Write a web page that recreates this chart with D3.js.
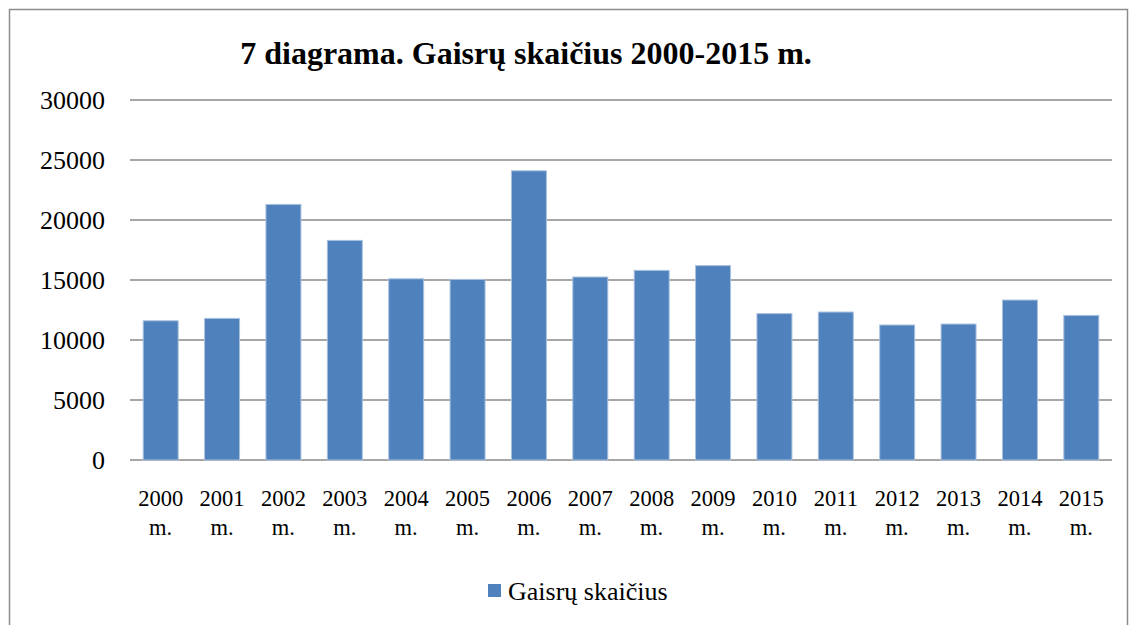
<!DOCTYPE html>
<html>
<head>
<meta charset="utf-8">
<script src="https://cdn.jsdelivr.net/npm/d3@7"></script>
<style>
  body { margin: 0; background: #fff; }
  svg text { font-family: "Liberation Serif", "Times New Roman", Times, serif; fill: #000; }
</style>
</head>
<body>
<div id="chart"></div>
<script>
const years = ['2000', '2001', '2002', '2003', '2004', '2005', '2006', '2007',
  '2008', '2009', '2010', '2011', '2012', '2013', '2014', '2015'];
const fires = [11600, 11800, 21300, 18300, 15100, 15050, 24100, 15250,
  15800, 16200, 12200, 12330, 11250, 11330, 13330, 12050];
const yTicks = [0, 5000, 10000, 15000, 20000, 25000, 30000];
const seriesName = 'Gaisrų skaičius';
const title = '7 diagrama. Gaisrų skaičius 2000-2015 m.';

const width = 1137, height = 625;
const margin = {top: 100, right: 25, bottom: 165, left: 130};
const cw = width - margin.left - margin.right;
const ch = height - margin.top - margin.bottom;
const barColor = '#4f81bd';

const svg = d3.select('#chart').append('svg').attr('width', width).attr('height', height);

// outer frame
svg.append('rect')
  .attr('x', 9.5).attr('y', 9.5)
  .attr('width', 1118).attr('height', 630)
  .attr('fill', 'none').attr('stroke', '#8c8c8c').attr('stroke-width', 1.5);

svg.append('text')
  .attr('x', 526).attr('y', 64)
  .attr('text-anchor', 'middle')
  .attr('font-size', 32).attr('font-weight', 'bold')
  .text(title);

const xScale = d3.scaleBand().domain(years).range([0, cw]).paddingInner(0.43).paddingOuter(0.215);
const yScale = d3.scaleLinear().domain([0, 30000]).range([ch, 0]);

const g = svg.append('g').attr('transform', `translate(${margin.left}, ${margin.top})`);

// gridlines
g.append('g').attr('class', 'grid')
  .selectAll('line')
  .data(yTicks)
  .join('line')
  .attr('x1', 0).attr('x2', cw)
  .attr('y1', d => yScale(d)).attr('y2', d => yScale(d))
  .attr('stroke', '#8a8a8a').attr('stroke-width', 1.5);

const yAxisCall = d3.axisLeft(yScale).tickValues(yTicks).tickSize(0).tickPadding(25).tickFormat(d => d);
const yAxis = g.append('g').attr('class', 'y-axis').call(yAxisCall);
yAxis.select('.domain').remove();
yAxis.selectAll('text')
  .attr('font-size', 26)
  .attr('text-anchor', 'end')
  .attr('dy', '0.33em');

// bars
g.append('g').selectAll('rect')
  .data(years.map((y, i) => ({name: y, value: fires[i]})))
  .join('rect')
  .attr('x', d => xScale(d.name))
  .attr('y', d => yScale(d.value))
  .attr('width', xScale.bandwidth())
  .attr('height', d => ch - yScale(d.value))
  .attr('fill', barColor)
  .attr('stroke', '#a9c1de').attr('stroke-width', 1);

// x labels (two lines)
const xl = g.append('g').attr('class', 'x-axis').attr('transform', `translate(0, ${ch})`)
  .selectAll('text')
  .data(years)
  .join('text')
  .attr('x', d => xScale(d) + xScale.bandwidth() / 2)
  .attr('text-anchor', 'middle')
  .attr('font-size', 22.5);
xl.append('tspan').attr('x', d => xScale(d) + xScale.bandwidth() / 2).attr('y', 46).text(d => d);
xl.append('tspan').attr('x', d => xScale(d) + xScale.bandwidth() / 2).attr('y', 75).text('m.');

// legend
const lg = svg.append('g').attr('transform', 'translate(488, 584)');
lg.append('rect').attr('width', 13).attr('height', 13).attr('fill', barColor);
lg.append('text').attr('x', 20).attr('y', 16).attr('font-size', 26).text(seriesName);
</script>
</body>
</html>
